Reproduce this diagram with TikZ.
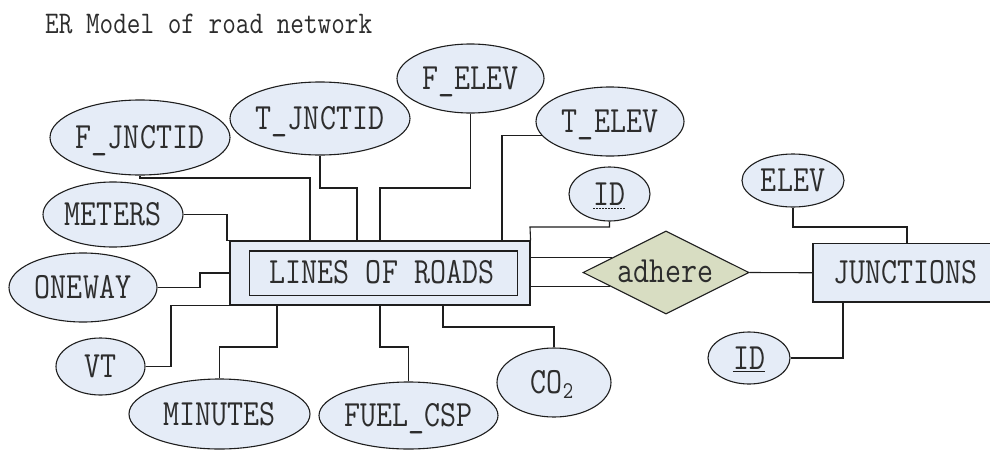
\documentclass[tikz,border=0pt]{standalone}
\usepackage{fontspec}
\newfontfamily\erfont[FakeStretch=0.84]{Latin Modern Mono}
\usetikzlibrary{shapes.geometric,calc}
\definecolor{attrfill}{RGB}{229,236,247}
\definecolor{relfill}{RGB}{216,221,194}
\definecolor{ink}{RGB}{30,30,30}
\definecolor{txt}{RGB}{45,45,45}
\begin{document}
\begin{tikzpicture}[x=1pt,y=-1pt,
  attr/.style={ellipse, draw=ink, fill=attrfill, line width=1.1pt, inner sep=0pt},
  ent/.style={rectangle, draw=ink, fill=attrfill, line width=1.1pt, inner sep=0pt},
  rel/.style={diamond, draw=ink, fill=relfill, line width=1.1pt, inner sep=0pt},
  lbl/.style={inner sep=0pt, text=txt, font=\erfont\fontsize{37}{39}\selectfont, text height=22.5pt, text depth=0pt},
  ttl/.style={inner sep=0pt, text=txt, font=\erfont\fontsize{31.5}{33}\selectfont, anchor=base west},
  conn/.style={draw=ink, line width=1.1pt}
]
\clip (0,0) rectangle (990,450);
\fill[white] (0,0) rectangle (990,450);

% title
\node[ttl] (title) at (45,33) {ER Model of road network};

% entities
\node[ent, minimum width=300pt, minimum height=64pt] (lines) at (380,273) {};
\node[ent, minimum width=268pt, minimum height=44.5pt] (linesin) at (383.5,273.25) {};
\node[lbl] (linesl) at (382,272) {LINES OF ROADS};

\node[ent, minimum width=182pt, minimum height=58.5pt] (ju) at (904,272.75) {};
\node[lbl] (jul) at (905.5,272) {JUNCTIONS};

% relationship
\node[rel, minimum width=166pt, minimum height=83pt] (ad) at (666,272.5) {};
\node[lbl] (adl) at (665.5,271) {adhere};

% attributes
\node[attr, minimum width=180pt, minimum height=75pt] (fj) at (140,137.5) {};
\node[lbl] at (fj) {F\_JNCTID};
\node[attr, minimum width=180pt, minimum height=73pt] (tj) at (320,118.5) {};
\node[lbl] at (tj) {T\_JNCTID};
\node[attr, minimum width=147pt, minimum height=69pt] (fe) at (470.5,78.5) {};
\node[lbl] at (fe) {F\_ELEV};
\node[attr, minimum width=148pt, minimum height=69pt] (te) at (610,121.5) {};
\node[lbl] at (te) {T\_ELEV};
\node[attr, minimum width=81pt, minimum height=54pt] (idt) at (609.5,194) {};
\node[lbl] (idtl) at (idt) {ID};
\draw[ink, line width=0.9pt, dash pattern=on 2pt off 1pt] ([yshift=-3pt]idtl.south west) -- ([yshift=-3pt]idtl.south east);
\node[attr, minimum width=102pt, minimum height=53pt] (el) at (793,180.5) {};
\node[lbl] at (el) {ELEV};
\node[attr, minimum width=140pt, minimum height=65pt] (me) at (113,214.5) {};
\node[lbl] at (me) {METERS};
\node[attr, minimum width=148pt, minimum height=69pt] (ow) at (83,287.5) {};
\node[lbl] at (ow) {ONEWAY};
\node[attr, minimum width=89pt, minimum height=57pt] (vt) at (100.5,366.5) {};
\node[lbl] at (vt) {VT};
\node[attr, minimum width=181pt, minimum height=70pt] (mi) at (219.5,414) {};
\node[lbl] at (mi) {MINUTES};
\node[attr, minimum width=179pt, minimum height=67pt] (fu) at (408.5,415.5) {};
\node[lbl] at (fu) {FUEL\_CSP};
\node[attr, minimum width=114pt, minimum height=69pt] (co) at (554,382.5) {};
\node[lbl] at (552,382.5) {CO\raisebox{-5pt}{\fontsize{24}{24}\selectfont 2}};
\node[attr, minimum width=82pt, minimum height=52pt] (idj) at (749,358) {};
\node[lbl] (idjl) at (idj) {ID};
\draw[ink, line width=1pt] ([yshift=-2.5pt]idjl.south west) -- ([yshift=-2.5pt]idjl.south east);

% connectors to LINES OF ROADS (top)
\draw[conn] (fj.south) |- (310,178) -- (310,0 |- lines.north);
\draw[conn] (tj.south) |- (357,188) -- (357,0 |- lines.north);
\draw[conn] (fe.south) |- (380,188) -- (380,0 |- lines.north);
\draw[conn] (te.192) -| (502,0 |- lines.north);
\draw[conn] (idt.south) |- (530,227) -- (lines.north east);
% left
\draw[conn] (me.east) -| (227,0 |- lines.north) -- (lines.north west);
\draw[conn] (ow.east) -- (200,0 |- ow.east) |- (lines.west);
\draw[conn] (vt.east) -| (171,0 |- lines.south) -- (lines.south west);
% bottom
\draw[conn] (mi.north) |- (277,347) -- (277,0 |- lines.south);
\draw[conn] (fu.north) |- (380,347) -- (380,0 |- lines.south);
\draw[conn] (co.north) |- (443,327) -- (443,0 |- lines.south);

% relationship links
\coordinate (p1) at ($(ad.west)!0.35!(ad.north)$);
\coordinate (p2) at ($(ad.west)!0.33!(ad.south)$);
\draw[conn] (lines.east |- p1) -- (p1);
\draw[conn] (lines.east |- p2) -- (p2);
\draw[conn] (ad.east) -- (ju.west);

% junction attributes
\draw[conn] (el.south) |- (907,227) -- (907,0 |- ju.north);
\draw[conn] (idj.east) -| (843,0 |- ju.south);
\end{tikzpicture}
\end{document}
